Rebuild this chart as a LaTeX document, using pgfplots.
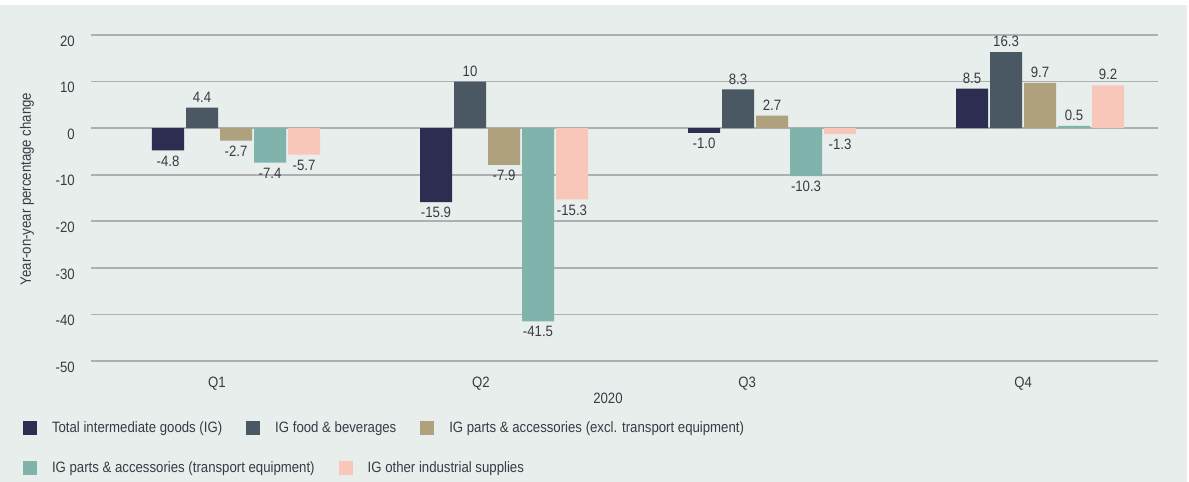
\documentclass[border=0pt]{standalone}
\usepackage{fontspec}
\setmainfont{Liberation Sans}[FakeStretch=0.88]
\usepackage{pgfplots}
\usepackage{pgfplotstable}
\pgfplotsset{compat=1.18}
\definecolor{bgc}{HTML}{E7EEEC}
\definecolor{gridc}{HTML}{AEAFB0}
\definecolor{txtc}{HTML}{3A3A44}
\definecolor{cA}{HTML}{2D2C51}
\definecolor{cB}{HTML}{4A5864}
\definecolor{cC}{HTML}{AFA07E}
\definecolor{cD}{HTML}{80B3AC}
\definecolor{cE}{HTML}{F9C7BA}

\pgfplotstableread{
x y lab
0 -4.8 -4.8
1 -15.9 -15.9
2 -1.0 -1.0
3 8.5 8.5
}\tA
\pgfplotstableread{
x y lab
0 4.4 4.4
1 10 10
2 8.3 8.3
3 16.3 16.3
}\tB
\pgfplotstableread{
x y lab
0 -2.7 -2.7
1 -7.9 -7.9
2 2.7 2.7
3 9.7 9.7
}\tC
\pgfplotstableread{
x y lab
0 -7.4 -7.4
1 -41.5 -41.5
2 -10.3 -10.3
3 0.5 0.5
}\tD
\pgfplotstableread{
x y lab
0 -5.7 -5.7
1 -15.3 -15.3
2 -1.3 -1.3
3 9.2 9.2
}\tE

\newcommand{\fs}{\fontsize{15}{18}\selectfont}

\pgfplotsset{
  sqlegend/.style={
    legend image code/.code={\fill[##1,draw=none] (0pt,-7pt) rectangle (14pt,7pt);}
  },
  legstyle/.style={
    legend style={draw=none, fill=none, inner sep=0pt, outer sep=0pt,
      font=\fs, text=txtc, anchor=west,
      nodes={inner sep=0pt},
      /tikz/every odd column/.append style={column sep=15pt},
      /tikz/every even column/.append style={column sep=24pt}},
    legend cell align=left,
  },
  barsty/.style 2 args={ybar, bar width=32pt, bar shift=#2, draw=none, fill=#1,
    nodes near coords, point meta=explicit symbolic,
    visualization depends on={rawy \as \ry},
    every node near coord/.append style={font=\fs, text=txtc, xshift=#2,
      inner sep=5pt,
      anchor={\ifdim\ry pt<0pt north\else south\fi}}},
}

\begin{document}
\begin{tikzpicture}
\fill[white] (0pt,0pt) rectangle (1189pt,482pt);
\fill[bgc] (0pt,0pt) rectangle (1187pt,477pt);
\begin{axis}[
  at={(91pt,121pt)}, anchor=south west,
  scale only axis, width=1067pt, height=326pt,
  xmin=-0.541, xmax=3.440, ymin=-50, ymax=20,
  clip=false,
  axis line style={draw=none},
  tick style={draw=none},
  ymajorgrids,
  major grid style={draw=gridc, line width=1.6pt},
  ytick={-50,-40,-30,-20,-10,0,10,20},
  yticklabels={-50,-40,-30,-20,-10,0,10,20},
  yticklabel style={font=\fs, text=txtc, anchor=east, inner sep=0pt, xshift=-16pt, yshift=-6pt},
  xtick={-0.071,0.914,1.907,2.937},
  xticklabels={Q1,Q2,Q3,Q4},
  xticklabel style={font=\fs, text=txtc, anchor=north, inner sep=0pt, yshift=-16pt},
  xlabel={2020},
  xlabel style={at={(axis description cs:0.4845,0)}, anchor=north, inner sep=0pt, yshift=-32pt, font=\fs, text=txtc},
  ylabel={Year-on-year percentage change},
  ylabel style={at={(axis description cs:-0.06,0.5276)}, anchor=center, inner sep=0pt, font=\fs, text=txtc},
  sqlegend, legstyle,
  legend style={at={(axis description cs:-0.0637,-0.204)}},
  legend columns=3,
]
\addplot[barsty={cA}{-68pt}] table[x=x, y=y, meta=lab] {\tA};
\addlegendentry{Total intermediate goods (IG)}
\addplot[barsty={cB}{-34pt}] table[x=x, y=y, meta=lab] {\tB};
\addlegendentry{IG food \& beverages}
\addplot[barsty={cC}{0pt}] table[x=x, y=y, meta=lab] {\tC};
\addlegendentry{IG parts \& accessories (excl. transport equipment)}
\addplot[barsty={cD}{34pt}, forget plot] table[x=x, y=y, meta=lab] {\tD};
\addplot[barsty={cE}{68pt}, forget plot] table[x=x, y=y, meta=lab] {\tE};
\end{axis}
\begin{axis}[
  at={(91pt,121pt)}, anchor=south west,
  scale only axis, width=1067pt, height=326pt,
  xmin=-0.541, xmax=3.440, ymin=-50, ymax=20,
  hide axis,
  sqlegend, legstyle,
  legend style={at={(axis description cs:-0.0637,-0.3267)}},
  legend columns=2,
]
\addlegendimage{fill=cD}
\addlegendentry{IG parts \& accessories (transport equipment)}
\addlegendimage{fill=cE}
\addlegendentry{IG other industrial supplies}
\end{axis}
\end{tikzpicture}
\end{document}
